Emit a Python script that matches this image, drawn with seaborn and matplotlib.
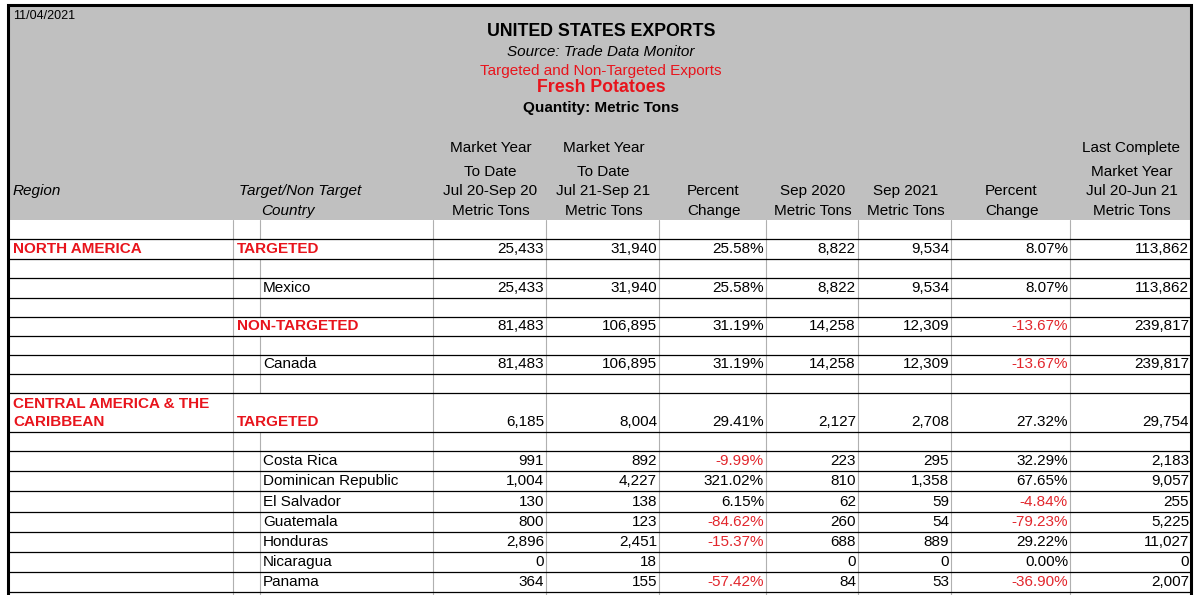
"""
US fresh potato exports table, redrawn with seaborn/matplotlib.
"""
import matplotlib
matplotlib.use("Agg")
import matplotlib.pyplot as plt
import seaborn as sns

# ---- data -------------------------------------------------------------
report_date = "11/04/2021"
title_lines = ["UNITED STATES EXPORTS", "Source: Trade Data Monitor",
               "Targeted and Non-Targeted Exports", "Fresh Potatoes",
               "Quantity: Metric Tons"]

col_headers = [
    ["Market Year", "To Date", "Jul 20-Sep 20", "Metric Tons"],
    ["Market Year", "To Date", "Jul 21-Sep 21", "Metric Tons"],
    ["", "", "Percent", "Change"],
    ["", "", "Sep 2020", "Metric Tons"],
    ["", "", "Sep 2021", "Metric Tons"],
    ["", "", "Percent", "Change"],
    ["Last Complete", "Market Year", "Jul 20-Jun 21", "Metric Tons"],
]

regions = {0: ["NORTH AMERICA"], 4: ["CENTRAL AMERICA & THE", "CARIBBEAN"]}
row_names = ["TARGETED", "Mexico", "NON-TARGETED", "Canada", "TARGETED",
             "Costa Rica", "Dominican Republic", "El Salvador", "Guatemala",
             "Honduras", "Nicaragua", "Panama"]
is_group = [True, False, True, False, True,
            False, False, False, False, False, False, False]

ytd_2020 = [25433, 25433, 81483, 81483, 6185, 991, 1004, 130, 800, 2896, 0, 364]
ytd_2021 = [31940, 31940, 106895, 106895, 8004, 892, 4227, 138, 123, 2451, 18, 155]
pct_ytd = [25.58, 25.58, 31.19, 31.19, 29.41, -9.99, 321.02, 6.15, -84.62,
           -15.37, None, -57.42]
sep_2020 = [8822, 8822, 14258, 14258, 2127, 223, 810, 62, 260, 688, 0, 84]
sep_2021 = [9534, 9534, 12309, 12309, 2708, 295, 1358, 59, 54, 889, 0, 53]
pct_sep = [8.07, 8.07, -13.67, -13.67, 27.32, 32.29, 67.65, -4.84, -79.23,
           29.22, 0.00, -36.90]
last_my = [113862, 113862, 239817, 239817, 29754, 2183, 9057, 255, 5225,
           11027, 0, 2007]

# ---- layout (pixel grid) ----------------------------------------------
W, H = 1200, 595
LEFT, RIGHT, TOP, HEAD_BOTTOM = 8, 1191, 5, 220
col_edges = [233, 260, 433, 546, 659, 766, 858, 951, 1070, RIGHT]
row_edges = [220, 239, 259, 278, 298, 317, 336, 355, 374, 393, 432, 451,
             471, 491, 512, 532, 552, 572, 592]
value_bands = [1, 3, 5, 7, 9, 11, 12, 13, 14, 15, 16, 17]

RED = "#e8141c"
NEG_RED = "#e2262c"
HEADER_GRAY = "#c0c0c0"
GRID_GRAY = "#b0b0b0"

sns.set_theme(style="white")
plt.rcParams["font.family"] = ["Liberation Sans", "DejaVu Sans"]
plt.rcParams["text.color"] = "black"

fig = plt.figure(figsize=(W / 100, H / 100), dpi=100)
ax = fig.add_axes([0, 0, 1, 1])
ax.set_xlim(0, W)
ax.set_ylim(H, 0)
ax.axis("off")

# header block
ax.add_patch(plt.Rectangle((LEFT, TOP), RIGHT - LEFT, HEAD_BOTTOM - TOP,
                           facecolor=HEADER_GRAY, edgecolor="none", zorder=0))

# vertical grid lines (country column line is hidden on group rows)
group_bands = [value_bands[i] for i, g in enumerate(is_group) if g]
for x in col_edges[:-1]:
    if x == 260:
        for b in range(len(row_edges) - 1):
            if b not in group_bands:
                ax.plot([x, x], [row_edges[b], row_edges[b + 1]],
                        color=GRID_GRAY, lw=0.8, zorder=1)
        ax.plot([x, x], [row_edges[-1], H], color=GRID_GRAY, lw=0.8, zorder=1)
    else:
        ax.plot([x, x], [HEAD_BOTTOM, H], color=GRID_GRAY, lw=0.8, zorder=1)

# horizontal black rules
for y in row_edges[1:]:
    ax.plot([LEFT, RIGHT], [y, y], color="black", lw=0.9, zorder=2)

# outer frame
ax.plot([LEFT, LEFT, RIGHT, RIGHT], [H, TOP, TOP, H], color="black",
        lw=2.2, zorder=3, solid_joinstyle="miter")

# header text
ax.text(13, 16, report_date, fontsize=9, va="center", ha="left")
cx = 601
ax.text(cx, 32, title_lines[0], fontsize=12.8, fontweight="bold",
        ha="center", va="center")
ax.text(cx, 52, title_lines[1], fontsize=11, style="italic",
        ha="center", va="center")
ax.text(cx, 71, title_lines[2], fontsize=11, color=RED,
        ha="center", va="center")
ax.text(cx, 87, title_lines[3], fontsize=12.8, fontweight="bold", color=RED,
        ha="center", va="center")
ax.text(cx, 108, title_lines[4], fontsize=11, fontweight="bold",
        ha="center", va="center")

ax.text(13, 191, "Region", fontsize=11, style="italic", va="center")
ax.text(300, 191, "Target/Non Target", fontsize=11, style="italic",
        ha="center", va="center")
ax.text(288, 211, "Country", fontsize=11, style="italic",
        ha="center", va="center")

header_y = [148, 172, 191, 211]
for j, lines in enumerate(col_headers):
    x0, x1 = col_edges[j + 2], col_edges[j + 3]
    for line, y in zip(lines, header_y):
        if line:
            ax.text((x0 + x1) / 2 + 1, y, line, fontsize=11,
                    ha="center", va="center")


def fmt_int(v):
    return f"{v:,}"


def fmt_pct(v):
    return "" if v is None else f"{v:.2f}%"


columns = [ytd_2020, ytd_2021, pct_ytd, sep_2020, sep_2021, pct_sep, last_my]
for i, name in enumerate(row_names):
    b = value_bands[i]
    y0, y1 = row_edges[b], row_edges[b + 1]
    y = y1 - 9.5 if (y1 - y0) > 25 else (y0 + y1) / 2
    if is_group[i]:
        ax.text(237, y, name, fontsize=11, fontweight="bold", color=RED,
                va="center", ha="left")
    else:
        ax.text(263, y, name, fontsize=11, va="center", ha="left")
    if i in regions:
        lines = regions[i]
        for k, line in enumerate(lines):
            ly = y - 18.5 * (len(lines) - 1 - k)
            ax.text(13, ly, line, fontsize=11, fontweight="bold", color=RED,
                    va="center", ha="left")
    for j, col in enumerate(columns):
        v = col[i]
        is_pct = j in (2, 5)
        txt = fmt_pct(v) if is_pct else fmt_int(v)
        color = NEG_RED if (is_pct and v is not None and v < 0) else "black"
        xr = col_edges[j + 3] - 2
        ax.text(xr, y, txt, fontsize=11, color=color, ha="right", va="center")

fig.savefig("out.png", dpi=100, facecolor="white")
